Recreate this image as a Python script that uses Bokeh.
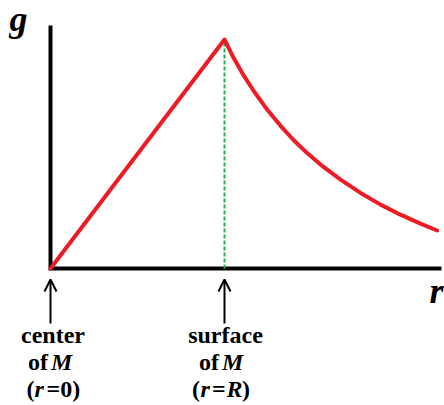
from bokeh.plotting import figure
from bokeh.models import Range1d, Arrow, OpenHead
from bokeh.core.properties import value
from bokeh.embed import file_html
from bokeh.resources import INLINE

# ---- data (r in units of R, g in units of g at the surface) ----
r_vals = [0.0, 1.0, 1.053, 1.111, 1.168, 1.245, 1.322, 1.398, 1.475, 1.552,
          1.667, 1.782, 1.897, 2.011, 2.126, 2.222]
g_vals = [0.0, 1.0, 0.919, 0.842, 0.775, 0.694, 0.623, 0.560, 0.504, 0.454,
          0.388, 0.330, 0.279, 0.235, 0.196, 0.166]
surface_r = 1.0
surface_g = 1.0
arrow_r = [0.0, 1.0]

# ---- layout mapping (pixels on page) ----
W, H = 444, 405
PX0, PXS = 50.0, 174.0   # page x of r=0, px per unit r
PY0, PYS = 268.0, 229.0  # page y of g=0, px per unit g
TEXT_DY = -10.0          # empirical baseline correction

def rx(px):
    return (px - PX0) / PXS

def gy(py):
    return (PY0 - py) / PYS

x_range = Range1d(rx(0), rx(W))
y_range = Range1d(gy(H), gy(0))

p = figure(width=W, height=H, x_range=x_range, y_range=y_range,
           output_backend="svg", toolbar_location=None,
           min_border=0, min_border_left=0, min_border_right=0,
           min_border_top=0, min_border_bottom=0)
p.axis.visible = False
p.grid.visible = False
p.outline_line_color = None
p.background_fill_color = "white"
p.border_fill_color = "white"

# axes lines
p.line([0, 0, rx(441)], [gy(25), 0, 0], line_color="black", line_width=4,
       line_join="miter", line_cap="butt")

# green dashed line at surface
p.line([surface_r, surface_r], [0, surface_g], line_color="#22B14C",
       line_width=2, line_dash="4 2")

# red g(r) curve
p.line(r_vals, g_vals, line_color="#ED1C24", line_width=4, line_join="round",
       line_cap="round")

# arrows
for ar in arrow_r:
    p.add_layout(Arrow(end=OpenHead(size=12, line_width=2, line_color="black"),
                       x_start=ar, y_start=gy(323), x_end=ar, y_end=gy(279),
                       line_width=2, line_color="black"))

FONT = value("Liberation Serif, Times New Roman, serif")

def txt(s, px, py, align="left", style="bold", size="24px"):
    p.text(x=[rx(px)], y=[gy(py + TEXT_DY)], text=[s], text_font=FONT,
           text_font_style=style, text_font_size=size, text_align=align,
           text_baseline="alphabetic", text_color="black")

# axis titles
txt("g", 9, 28, style="bold italic", size="36px")
txt("r", 429, 300, style="bold italic", size="36px")

# center labels
txt("center", 52.5, 344, align="center")
txt("of", 47.5, 371, align="right")
txt("M", 50.5, 371, style="bold italic")
txt("(", 26, 398.5)
txt("r", 34, 398.5, style="bold italic")
txt("=0)", 46, 398.5)

# surface labels
txt("surface", 225, 344, align="center")
txt("of", 218.5, 371, align="right")
txt("M", 221.5, 371, style="bold italic")
txt("(", 191.5, 398.5)
txt("r", 200, 398.5, style="bold italic")
txt("=", 211.5, 398.5)
txt("R", 226, 398.5, style="bold italic")
txt(")", 241.5, 398.5)

open("out.html", "w").write(file_html(p, INLINE))
